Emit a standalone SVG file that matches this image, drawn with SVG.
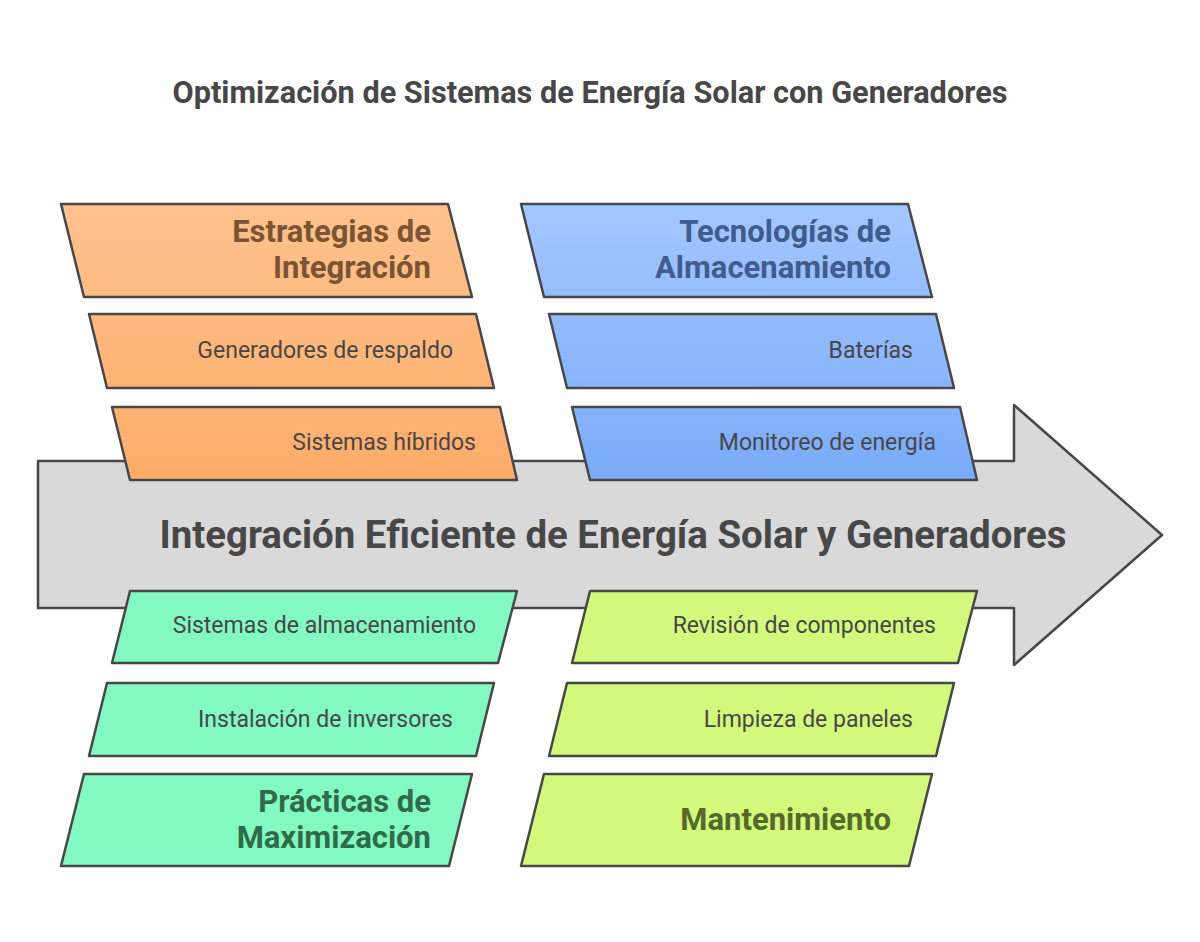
<svg xmlns="http://www.w3.org/2000/svg" width="1200" height="942" viewBox="0 0 1200 942">
<defs>
<linearGradient id="gOr" gradientUnits="userSpaceOnUse" x1="0" y1="204" x2="0" y2="480">
<stop offset="0" stop-color="#FFC28E"/><stop offset="1" stop-color="#FEAC68"/>
</linearGradient>
<linearGradient id="gBl" gradientUnits="userSpaceOnUse" x1="0" y1="204" x2="0" y2="480">
<stop offset="0" stop-color="#A3C7FF"/><stop offset="1" stop-color="#7AABF8"/>
</linearGradient>
</defs>
<style>
.sh{stroke:#474747;stroke-width:2.5;stroke-linejoin:round}
.t{font-family:Roboto,"Liberation Sans",sans-serif;text-anchor:end}
.hd{font-size:31px;font-weight:bold}
.it{font-size:23px;fill:#474747}
.title{font-family:Roboto,"Liberation Sans",sans-serif;font-weight:bold;font-size:30.7px;fill:#474747;text-anchor:middle}
.main{font-family:Roboto,"Liberation Sans",sans-serif;font-weight:bold;font-size:38.4px;fill:#474747;text-anchor:middle}
</style>
<rect width="1200" height="942" fill="#ffffff"/>
<text class="title" x="590" y="103">Optimización de Sistemas de Energía Solar con Generadores</text>
<g id="spine">
<path class="sh" fill="#D9D9D9" d="M38 461 H1014 V405 L1162 535 L1014 665 V608 H38 Z"/>
<text class="main" x="613" y="548">Integración Eficiente de Energía Solar y Generadores</text>
</g>
<g id="connectors"></g>
<g id="estrategias">
<path class="sh" fill="url(#gOr)" d="M61 204 H448 L472 297 H84 Z"/>
<text class="t hd" fill="#7A5433" x="431" y="242">Estrategias de</text>
<text class="t hd" fill="#7A5433" x="431" y="278">Integración</text>
</g>
<g id="generadores">
<path class="sh" fill="url(#gOr)" d="M89 314 H476 L494 388 H107 Z"/>
<text class="t it" x="453" y="358">Generadores de respaldo</text>
</g>
<g id="hibridos">
<path class="sh" fill="url(#gOr)" d="M112 407 H500 L517 480 H130 Z"/>
<text class="t it" x="476" y="450">Sistemas híbridos</text>
</g>
<g id="tecnologias">
<path class="sh" fill="url(#gBl)" d="M521 204 H908 L932 297 H544 Z"/>
<text class="t hd" fill="#3F5C8C" x="891" y="242">Tecnologías de</text>
<text class="t hd" fill="#3F5C8C" x="891" y="278">Almacenamiento</text>
</g>
<g id="baterias">
<path class="sh" fill="url(#gBl)" d="M549 314 H936 L954 388 H567 Z"/>
<text class="t it" x="913" y="358">Baterías</text>
</g>
<g id="monitoreo">
<path class="sh" fill="url(#gBl)" d="M572 407 H960 L977 480 H590 Z"/>
<text class="t it" x="936" y="450">Monitoreo de energía</text>
</g>
<g id="almacenamiento">
<path class="sh" fill="#82F9C1" d="M130 591 H517 L498 663 H112 Z"/>
<text class="t it" x="476" y="633">Sistemas de almacenamiento</text>
</g>
<g id="inversores">
<path class="sh" fill="#82F9C1" d="M107 683 H494 L476 756 H89 Z"/>
<text class="t it" x="453" y="727">Instalación de inversores</text>
</g>
<g id="practicas">
<path class="sh" fill="#82F9C1" d="M84 774 H472 L449 866 H61 Z"/>
<text class="t hd" fill="#2F6B4B" x="431" y="812">Prácticas de</text>
<text class="t hd" fill="#2F6B4B" x="431" y="848">Maximización</text>
</g>
<g id="revision">
<path class="sh" fill="#D2F97C" d="M590 591 H977 L958 663 H572 Z"/>
<text class="t it" x="936" y="633">Revisión de componentes</text>
</g>
<g id="limpieza">
<path class="sh" fill="#D2F97C" d="M567 683 H954 L936 756 H549 Z"/>
<text class="t it" x="913" y="727">Limpieza de paneles</text>
</g>
<g id="mantenimiento">
<path class="sh" fill="#D2F97C" d="M544 774 H932 L909 866 H521 Z"/>
<text class="t hd" fill="#56692B" x="891" y="830">Mantenimiento</text>
</g>
</svg>
